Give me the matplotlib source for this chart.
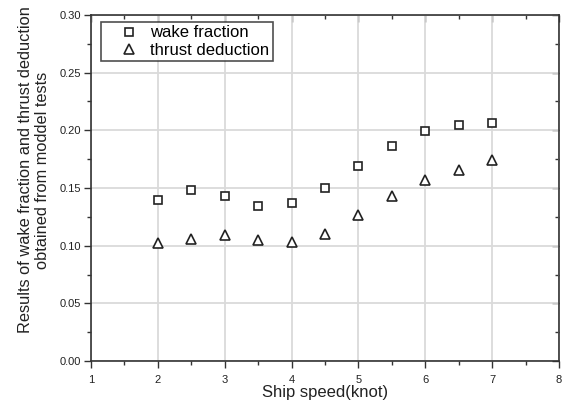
import matplotlib
matplotlib.use("Agg")
import matplotlib.pyplot as plt
from matplotlib.ticker import MultipleLocator, FormatStrFormatter, NullFormatter

speed = [2, 2.5, 3, 3.5, 4, 4.5, 5, 5.5, 6, 6.5, 7]
wake_fraction = [0.140, 0.148, 0.143, 0.134, 0.137, 0.150, 0.169, 0.186, 0.199, 0.205, 0.206]
thrust_deduction = [0.102, 0.106, 0.109, 0.105, 0.103, 0.110, 0.127, 0.143, 0.157, 0.166, 0.174]

plt.rcParams['font.family'] = ['Liberation Sans', 'DejaVu Sans']

fig = plt.figure(figsize=(5.65, 4.05), dpi=100)
ax = fig.add_axes([91/565, 1 - 361/405, (559-91)/565, (361-15)/405])

ax.plot(speed, wake_fraction, linestyle='none', marker='s', markersize=5.5,
        markerfacecolor='white', markeredgecolor='#222222', markeredgewidth=1.2,
        label='wake fraction')
ax.plot(speed, thrust_deduction, linestyle='none', marker='^', markersize=6.5,
        markerfacecolor='white', markeredgecolor='#222222', markeredgewidth=1.2,
        label='thrust deduction')

ax.set_xlim(1, 8)
ax.set_ylim(0, 0.30)
ax.xaxis.set_major_locator(MultipleLocator(1))
ax.xaxis.set_minor_locator(MultipleLocator(0.5))
ax.yaxis.set_major_locator(MultipleLocator(0.05))
ax.yaxis.set_minor_locator(MultipleLocator(0.025))
ax.yaxis.set_major_formatter(FormatStrFormatter('%.2f'))

ax.grid(True, which='major', color='#dadada', linewidth=1.3)
ax.set_axisbelow(True)

for s in ax.spines.values():
    s.set_color('#333333')
    s.set_linewidth(1.2)

ax.tick_params(axis='both', which='major', direction='out', length=5, width=1,
               color='#333333', labelsize=8, labelcolor='#222222')
ax.tick_params(axis='x', which='major', pad=5)
ax.tick_params(axis='y', which='major', pad=2)
ax.tick_params(axis='both', which='minor', direction='out', length=3, width=1,
               color='#333333')

# inward ticks on top and right spines
top = ax.secondary_xaxis('top')
top.xaxis.set_major_locator(MultipleLocator(1))
top.xaxis.set_minor_locator(MultipleLocator(0.5))
top.xaxis.set_major_formatter(NullFormatter())
top.tick_params(which='major', direction='in', length=5, width=1, color='#333333')
top.tick_params(which='minor', direction='in', length=3, width=1, color='#333333')
top.spines['top'].set_visible(False)

right = ax.secondary_yaxis('right')
right.yaxis.set_major_locator(MultipleLocator(0.05))
right.yaxis.set_minor_locator(MultipleLocator(0.025))
right.yaxis.set_major_formatter(NullFormatter())
right.tick_params(which='major', direction='in', length=5, width=1, color='#333333')
right.tick_params(which='minor', direction='in', length=3, width=1, color='#333333')
right.spines['right'].set_visible(False)

ax.set_xlabel('Ship speed(knot)', fontsize=12, color='#222222', labelpad=0)
ax.set_ylabel('Results of wake fraction and thrust deduction\nobtained from moddel tests',
              fontsize=11.8, color='#222222', linespacing=1.15)
ax.yaxis.set_label_coords((50 - 91) / 468, (361 - 170) / 346)

leg = ax.legend(loc='upper left', bbox_to_anchor=((101 - 91) / 468, (361 - 22) / 346),
                fontsize=12, frameon=True, fancybox=False,
                edgecolor='#222222', borderaxespad=0, handletextpad=-0.15,
                borderpad=0.2, labelspacing=0.15, handlelength=2.9)
leg.get_frame().set_linewidth(1.2)

fig.savefig('out.png', dpi=100)
